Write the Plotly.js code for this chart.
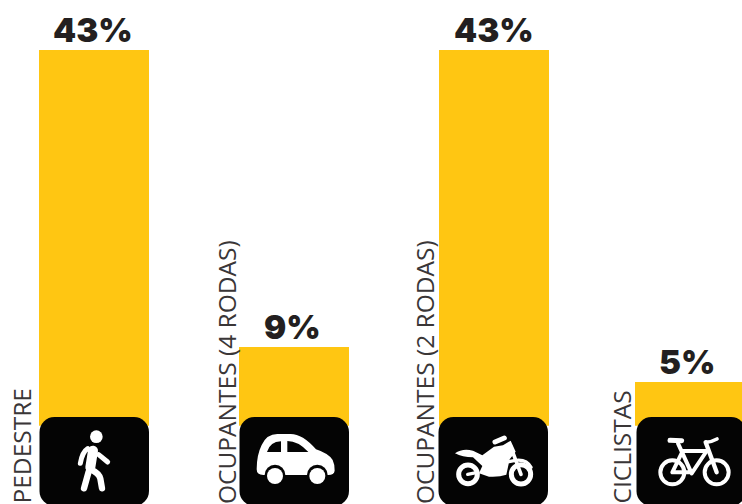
<!DOCTYPE html>
<html><head><meta charset="utf-8">
<script src="https://cdn.plot.ly/plotly-3.0.1.min.js"></script>
<style>html,body{margin:0;padding:0;background:#fff;overflow:hidden}#c{width:742px;height:504px}</style>
</head><body><div id="c"></div>
<script>
var categories = ["PEDESTRE", "OCUPANTES (4 RODAS)", "OCUPANTES (2 RODAS)", "CICLISTAS"];
var shares = [43, 9, 43, 5];
var valueLabels = ["43%", "9%", "43%", "5%"];

var barOffsets = [-0.275, -0.275, -0.275, -0.295];
var labelShift = [-73, -68, -70, -73];
var valueShift = [-1, -2, 0, -7];
var iconLeft = [-0.275, -0.275, -0.28, -0.29];

function wrap(body, ox) {
  var svg = '<svg xmlns="http://www.w3.org/2000/svg" width="440" height="356" viewBox="0 0 110 89">' +
    '<rect x="0.5" y="0" width="109.5" height="89" rx="15" ry="15" fill="#040404"/>' +
    '<g transform="translate(' + ox + ',-37) scale(0.33333)">' + body + '</g></svg>';
  return 'data:image/svg+xml;charset=utf-8,' + encodeURIComponent(svg);
}
var walker =
  '<g fill="none" stroke="#fff" stroke-linecap="round" stroke-linejoin="round">' +
  '<path d="M279,212 L271,262" stroke-width="30"/>' +
  '<path d="M263,206 Q247,216 241,250" stroke-width="15"/>' +
  '<path d="M296,224 L323,246" stroke-width="15"/>' +
  '<path d="M272,268 Q298,280 301,296 L306,325" stroke-width="19"/>' +
  '<path d="M266,275 L252,325" stroke-width="19"/></g>' +
  '<circle cx="289" cy="170" r="19" fill="#fff"/>';
var car =
  '<path fill="#fff" d="M770,268 Q770,225 785,195 Q800,162 832,162 L872,162 Q908,162 948,208 Q985,220 998,240 Q1004,252 1004,272 Q1002,285 985,285 L790,285 Q770,285 770,268 Z"/>' +
  '<circle cx="825" cy="285" r="31" fill="#040404"/><circle cx="952" cy="285" r="31" fill="#040404"/>' +
  '<circle cx="825" cy="288" r="24" fill="#fff"/><circle cx="952" cy="288" r="24" fill="#fff"/>' +
  '<path fill="#040404" d="M801,216 Q810,185 843,184 L843,216 Z M862,183 Q895,183 925,216 L862,216 Z"/>';
var moto =
  '<path fill="#fff" d="M168,220 Q190,204 222,212 L250,226 L285,200 L312,196 L335,182 L350,215 L332,238 L322,284 Q300,292 270,290 L240,280 L250,258 L222,232 Q190,232 168,220 Z"/>' +
  '<g fill="none" stroke="#fff" stroke-linecap="round">' +
  '<circle cx="207" cy="283" r="28" stroke-width="15"/>' +
  '<circle cx="366" cy="283" r="29" stroke-width="15"/>' +
  '<path d="M206,283 L232,278" stroke-width="10"/>' +
  '<path d="M288,186 L316,174" stroke-width="15"/>' +
  '<path d="M335,200 L366,283" stroke-width="11"/>' +
  '<path d="M330,245 Q380,230 396,262" stroke-width="10"/></g>';
var bike =
  '<g fill="none" stroke="#fff" stroke-linecap="round" stroke-linejoin="round">' +
  '<circle cx="817" cy="277" r="36" stroke-width="12"/>' +
  '<circle cx="950" cy="277" r="36" stroke-width="12"/>' +
  '<path d="M810,181 L845,182" stroke-width="15"/>' +
  '<path d="M917,187 Q935,186 951,177" stroke-width="11"/>' +
  '<path d="M834,190 L875,280 L920,213 L848,213 L817,277 L875,277" stroke-width="12"/>' +
  '<path d="M917,187 L950,277" stroke-width="13"/></g>';
var iconBodies = [wrap(walker, -39), wrap(car, -239), wrap(moto, -39), wrap(bike, -236)];

var annotations = [];
categories.forEach(function (c, i) {
  annotations.push({x: c, y: shares[i], xref: 'x', yref: 'y', text: valueLabels[i], showarrow: false,
    yanchor: 'bottom', xshift: valueShift[i], yshift: -2,
    font: {family: 'Inter, "DejaVu Sans"', size: 33, color: '#231f20', weight: 900}});
  annotations.push({x: c, y: 0, xref: 'x', yref: 'paper', text: c, showarrow: false, textangle: -90,
    xanchor: 'center', yanchor: 'bottom', xshift: labelShift[i], yshift: -2,
    font: {family: '"Open Sans"', size: 24.5, color: '#3a3637', weight: 400}});
});

var images = categories.map(function (c, i) {
  return {source: iconBodies[i], xref: 'x', yref: 'paper', x: i + iconLeft[i], y: 87 / 504,
    sizex: 0.55, sizey: 89 / 504, sizing: 'stretch', xanchor: 'left', yanchor: 'top', layer: 'above'};
});

Plotly.newPlot('c', [{
  type: 'bar', x: categories, y: shares, width: 0.55, offset: barOffsets,
  marker: {color: '#ffc612', line: {width: 0}}, hoverinfo: 'skip'
}], {
  width: 742, height: 504, margin: {l: 0, r: 0, t: 0, b: 0, pad: 0},
  paper_bgcolor: '#fff', plot_bgcolor: '#fff', showlegend: false,
  xaxis: {type: 'category', categoryorder: 'array', categoryarray: categories, range: [-0.47, 3.24],
    showgrid: false, zeroline: false, showticklabels: false, ticks: '', showline: false},
  yaxis: {range: [-8.97, 48.72], showgrid: false, zeroline: false, showticklabels: false, ticks: '', showline: false},
  annotations: annotations, images: images
}, {displayModeBar: false, staticPlot: true});
</script></body></html>
